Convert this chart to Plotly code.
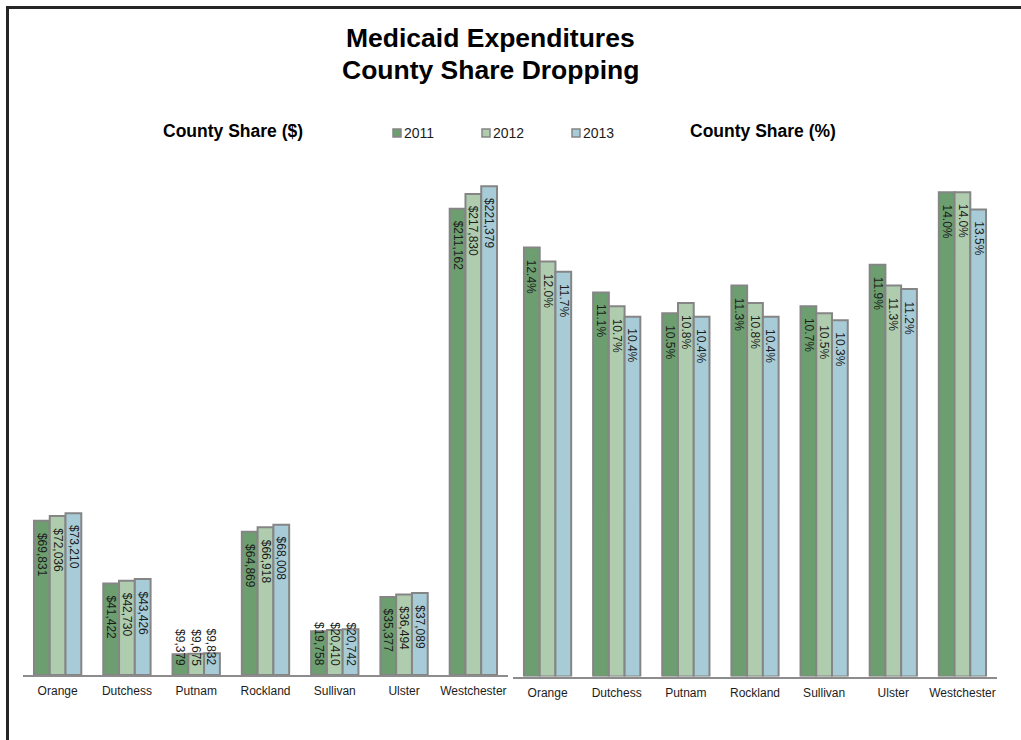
import plotly.graph_objects as go

# County Medicaid figures, 2011-2013
counties = ["Orange", "Dutchess", "Putnam", "Rockland", "Sullivan", "Ulster", "Westchester"]
years = ["2011", "2012", "2013"]

share_usd_2011 = [69831, 41422, 9379, 64869, 19758, 35377, 211162]
share_usd_2012 = [72036, 42730, 9675, 66918, 20410, 36494, 217830]
share_usd_2013 = [73210, 43426, 9832, 68008, 20742, 37089, 221379]

share_pct_2011 = [12.4, 11.1, 10.5, 11.3, 10.7, 11.9, 14.0]
share_pct_2012 = [12.0, 10.7, 10.8, 10.8, 10.5, 11.3, 14.0]
share_pct_2013 = [11.7, 10.4, 10.4, 10.4, 10.3, 11.2, 13.5]

usd_series = [share_usd_2011, share_usd_2012, share_usd_2013]
pct_series = [share_pct_2011, share_pct_2012, share_pct_2013]

colors = ["#6d9e6f", "#afcdae", "#a7ccd7"]
edge = "#858585"
font_family = "Liberation Sans, Arial, sans-serif"
text_color = "#1c1c1c"

W, H = 1021, 740


def px(x):
    return x / W


def py(y):
    return 1 - y / H


# plot-area geometry (pixels)
TOP = 123
LEFT_DOM = (23, 508)
LEFT_BASE = 675
RIGHT_DOM = (513, 997)
RIGHT_BASE = 676.5
USD_MAX = 250000
PCT_MAX = 16
BARGAP = 0.317

fig = go.Figure()

for i, yr in enumerate(years):
    fig.add_trace(go.Bar(
        x=counties, y=usd_series[i], name=yr, xaxis="x", yaxis="y",
        marker=dict(color=colors[i], line=dict(color=edge, width=2)),
        showlegend=False, hoverinfo="skip"))
    fig.add_trace(go.Bar(
        x=counties, y=pct_series[i], name=yr, xaxis="x2", yaxis="y2",
        marker=dict(color=colors[i], line=dict(color=edge, width=2)),
        showlegend=False, hoverinfo="skip"))

LABEL_SIZE = 12
CHAR_W = {",": 0.278, ".": 0.278, "%": 0.889}


def text_len(s):
    return sum(CHAR_W.get(c, 0.556) for c in s) * LABEL_SIZE


annotations = []


def add_labels(series, fmt, xref, yref, base, ymax):
    scale = (base - TOP) / ymax
    step = (1 - BARGAP) / 3
    for i, vals in enumerate(series):
        for j, v in enumerate(vals):
            label = fmt(v)
            xpos = j + (i - 1) * step
            bar_h = v * scale
            if bar_h >= text_len(label) + 19:
                ann = dict(y=v, yanchor="top", yshift=-10)
            else:
                ann = dict(y=0, yanchor="bottom", yshift=7)
            ann.update(x=xpos, xref=xref, yref=yref, text=label, textangle=90,
                       showarrow=False, xanchor="center",
                       font=dict(family=font_family, size=LABEL_SIZE, color=text_color))
            annotations.append(ann)


add_labels(usd_series, lambda v: "${:,}".format(v), "x", "y", LEFT_BASE, USD_MAX)
add_labels(pct_series, lambda v: "{:.1f}%".format(v), "x2", "y2", RIGHT_BASE, PCT_MAX)


def paper_text(x, y, text, size, xanchor="center", color="#000"):
    annotations.append(dict(x=px(x), y=py(y), xref="paper", yref="paper", showarrow=False,
                            xanchor=xanchor, yanchor="middle", text=text,
                            font=dict(family=font_family, size=size, color=color)))


# titles
paper_text(490, 38, "<b>Medicaid Expenditures</b>", 26.5)
paper_text(490, 70, "<b>County Share Dropping</b>", 26.5)
paper_text(233, 131, "<b>County Share ($)</b>", 17.5)
paper_text(763, 131, "<b>County Share (%)</b>", 17.5)

shapes = []
# legend keys
legend_x = [393, 482, 572]
for i, yr in enumerate(years):
    x0 = legend_x[i]
    shapes.append(dict(type="rect", xref="paper", yref="paper",
                       x0=px(x0), x1=px(x0 + 8), y0=py(137), y1=py(129),
                       fillcolor=colors[i], line=dict(color=edge, width=1.5)))
    paper_text(x0 + 9, 133, yr, 14, xanchor="left", color=text_color)

# outer frame
shapes.append(dict(type="rect", xref="paper", yref="paper",
                   x0=px(7.5), x1=px(1100), y0=py(800), y1=py(7.5),
                   line=dict(color="#262626", width=3), fillcolor="rgba(0,0,0,0)"))

axis_common = dict(showgrid=False, zeroline=False, ticks="", showline=True,
                   linecolor="#8c8c8c", linewidth=2, ticklabelstandoff=4,
                   tickfont=dict(family=font_family, size=12, color=text_color),
                   type="category", fixedrange=True)

fig.update_layout(
    width=W, height=H,
    margin=dict(l=0, r=0, t=0, b=0),
    paper_bgcolor="white", plot_bgcolor="white",
    barmode="group", bargap=BARGAP, bargroupgap=0,
    xaxis=dict(domain=[px(LEFT_DOM[0]), px(LEFT_DOM[1])], anchor="y", **axis_common),
    yaxis=dict(domain=[py(LEFT_BASE), py(TOP)], range=[0, USD_MAX], visible=False,
               fixedrange=True),
    xaxis2=dict(domain=[px(RIGHT_DOM[0]), px(RIGHT_DOM[1])], anchor="y2", **axis_common),
    yaxis2=dict(domain=[py(RIGHT_BASE), py(TOP)], range=[0, PCT_MAX], visible=False,
                fixedrange=True),
    annotations=annotations,
    shapes=shapes,
    showlegend=False,
)

fig.write_html("out.html")
